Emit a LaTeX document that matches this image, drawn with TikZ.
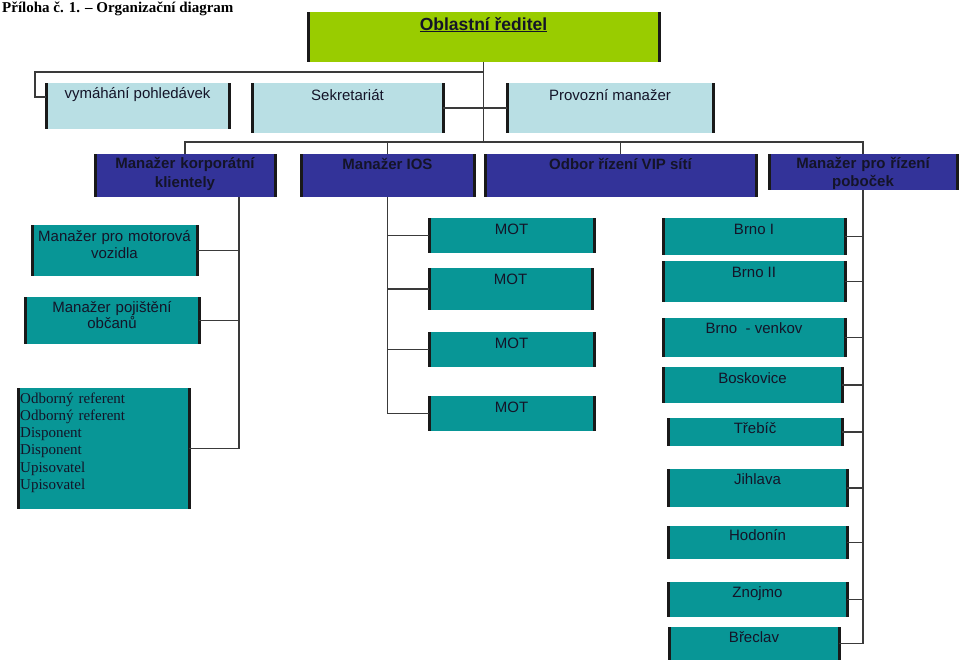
\documentclass[tikz,border=0pt]{standalone}
\usepackage{fontspec}
\setmainfont{Liberation Sans}
\newfontfamily\tnr{Liberation Serif}
\definecolor{dirgreen}{HTML}{99CC00}
\definecolor{lightbox}{HTML}{B9DFE4}
\definecolor{navybox}{HTML}{333399}
\definecolor{tealbox}{HTML}{089696}
\definecolor{connc}{HTML}{3A3A3A}
\definecolor{txtc}{HTML}{141428}
\newcommand\orgbox[6]{%
  \node[boxbase,#2,minimum width={#5-#3},minimum height={#6-#4}] (#1) at (#3,#4) {};
  \draw[sidebar] (#1.north west) -- (#1.south west) (#1.north east) -- (#1.south east);}
\begin{document}
\begin{tikzpicture}[x=1pt,y=-1pt,
  boxbase/.style={anchor=north west,inner sep=0pt,outer sep=0pt,draw=none},
  greenbox/.style={fill=dirgreen},
  lightb/.style={fill=lightbox},
  navyb/.style={fill=navybox},
  tealb/.style={fill=tealbox},
  sidebar/.style={line width=3pt,black!90},
  conn/.style={line width=1.3pt,connc},
  lbl/.style={anchor=base,inner sep=0pt,text=txtc,font=\fontsize{15}{18}\selectfont},
  blbl/.style={lbl,font=\bfseries\fontsize{15}{18.5}\selectfont},
]
\fill[white] (0,0) rectangle (959,664);
\useasboundingbox (0,0) rectangle (959,664);

\node[anchor=base west,inner sep=0pt,font=\tnr\bfseries\fontsize{15}{18}\selectfont] (title) at (2,12) {Příloha č. 1. – Organizační diagram};

% boxes
\orgbox{dir}{greenbox}{308}{12}{659}{62}
\orgbox{vym}{lightb}{46}{83}{229}{129}
\orgbox{sek}{lightb}{252}{83}{443}{133}
\orgbox{prov}{lightb}{507}{83}{713}{133}
\orgbox{kor}{navyb}{95}{154}{275}{197}
\orgbox{ios}{navyb}{301}{154}{474}{197}
\orgbox{vip}{navyb}{485}{154}{756}{197}
\orgbox{pob}{navyb}{769}{154}{957}{190}
\orgbox{mov}{tealb}{32}{225}{197}{276}
\orgbox{poj}{tealb}{25}{297}{199}{344}
\orgbox{ref}{tealb}{18}{388}{189}{509}
\orgbox{m1}{tealb}{429}{218}{594}{253}
\orgbox{m2}{tealb}{429}{268}{592}{310}
\orgbox{m3}{tealb}{429}{332}{594}{367}
\orgbox{m4}{tealb}{429}{396}{594}{431}
\orgbox{b1}{tealb}{663}{218}{845}{255}
\orgbox{b2}{tealb}{663}{261}{845}{302}
\orgbox{b3}{tealb}{663}{318}{845}{357}
\orgbox{b4}{tealb}{663}{367}{842}{403}
\orgbox{b5}{tealb}{668}{418}{842}{446}
\orgbox{b6}{tealb}{668}{469}{847}{507}
\orgbox{b7}{tealb}{668}{526}{847}{559}
\orgbox{b8}{tealb}{668}{582}{847}{617}
\orgbox{b9}{tealb}{669}{627}{839}{660}

% labels
\node[lbl,font=\bfseries\fontsize{17.5}{20}\selectfont,yshift=-18pt] (tdir) at (dir.north) {\underline{Oblastní ředitel}};
\node[lbl,yshift=-15.5pt] (tvym) at (vym.north) {vymáhání pohledávek};
\node[lbl,yshift=-17pt] (tsek) at (sek.north) {Sekretariát};
\node[lbl,yshift=-17pt] (tprov) at (prov.north) {Provozní manažer};
\node[blbl,yshift=-14.5pt,text width=180pt,align=center] (tkor) at (kor.north) {Manažer korporátní\\klientely};
\node[blbl,yshift=-15pt] (tios) at (ios.north) {Manažer IOS};
\node[blbl,yshift=-15pt] (tvip) at (vip.north) {Odbor řízení VIP sítí};
\node[blbl,yshift=-14pt,text width=188pt,align=center] (tpob) at (pob.north) {Manažer pro řízení\\poboček};
\node[lbl,font=\fontsize{15}{17}\selectfont,yshift=-16pt,text width=165pt,align=center] (tmov) at (mov.north) {Manažer pro motorová\\vozidla};
\node[lbl,font=\fontsize{15}{16.5}\selectfont,yshift=-15pt,text width=174pt,align=center] (tpoj) at (poj.north) {Manažer pojištění\\občanů};
\node[anchor=base west,inner sep=0pt,text=txtc,font=\tnr\fontsize{15}{17.3}\selectfont,text width=168pt,align=left,xshift=2pt,yshift=-15pt] (tref) at (ref.north west) {Odborný referent\\Odborný referent\\Disponent\\Disponent\\Upisovatel\\Upisovatel};
\foreach \m in {m1,m2,m3,m4} \node[lbl,yshift=-16pt] at (\m.north) {MOT};
\node[lbl,yshift=-16pt] (tb1) at (b1.north) {Brno I};
\node[lbl,yshift=-16pt] (tb2) at (b2.north) {Brno II};
\node[lbl,yshift=-15pt] (tb3) at (b3.north) {Brno~ - venkov};
\node[lbl,yshift=-16pt] (tb4) at (b4.north) {Boskovice};
\node[lbl,yshift=-15pt] (tb5) at (b5.north) {Třebíč};
\node[lbl,yshift=-15pt] (tb6) at (b6.north) {Jihlava};
\node[lbl,yshift=-14pt] (tb7) at (b7.north) {Hodonín};
\node[lbl,yshift=-15pt] (tb8) at (b8.north) {Znojmo};
\node[lbl,yshift=-15pt] (tb9) at (b9.north) {Břeclav};

% connectors
\coordinate (bus) at (0,142);
\coordinate (lb) at (35,72);
\draw[conn] (dir.south) -- (dir.south |- bus);
\draw[conn] (dir.south |- lb) -- (lb) |- ([yshift=9pt]vym.west);
\draw[conn] (sek.east) -- (prov.west);
\draw[conn] (kor.north) -- ++(0,-12) -| (pob.north);
\draw[conn] (ios.north) -- ++(0,-12);
\draw[conn] (vip.north) -- ++(0,-12);
\draw[conn] ([xshift=54pt]kor.south) coordinate (kv) |- (ref.east);
\draw[conn] (mov.east) -- (mov.east -| kv);
\draw[conn] (poj.east) -- (poj.east -| kv);
\draw[conn] (ios.south) |- (m4.west);
\foreach \m in {m1,m2,m3} \draw[conn] (\m.west) -- (\m.west -| ios.south);
\draw[conn] (pob.south) |- (b9.east);
\foreach \b in {b1,b2,b3,b4,b5,b6,b7,b8} \draw[conn] (\b.east) -- (\b.east -| pob.south);
\end{tikzpicture}
\end{document}
